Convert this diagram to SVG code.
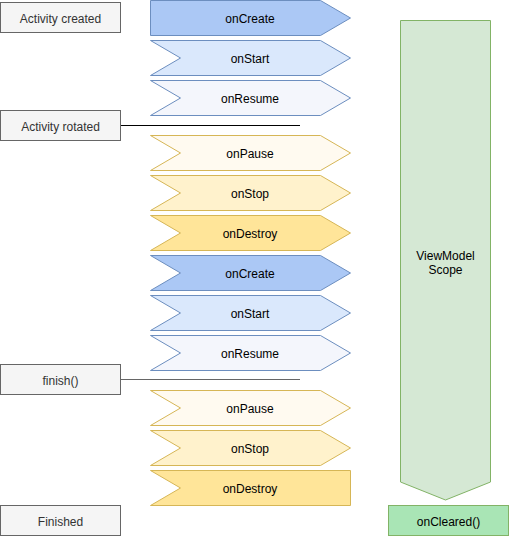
<svg xmlns="http://www.w3.org/2000/svg" width="509" height="536" viewBox="0 0 509 536">
<style>
text{font-family:"Liberation Sans",Arial,sans-serif;font-size:12px;text-anchor:middle}
.ev{fill:#f5f5f5;stroke:#666666;stroke-width:1}
.evt{fill:#333333}
.b{stroke:#6c8ebf;stroke-width:1}
.y{stroke:#d6b656;stroke-width:1}
.c1{fill:#abc8f5}.c2{fill:#dae8fc}.c3{fill:#f4f6fc}
.p1{fill:#fffaf0}.p2{fill:#fff2cc}.p3{fill:#ffe599}
.t{fill:#000000}
</style>
<g id="connectors">
<line x1="120" y1="125.5" x2="300" y2="125.5" stroke="#000000" stroke-width="1"/>
<line x1="120" y1="379.5" x2="300" y2="379.5" stroke="#666666" stroke-width="1"/>
</g>
<g id="activity-created"><rect class="ev" x="0.5" y="2.5" width="120" height="30"/><text class="evt" x="60.5" y="23">Activity created</text></g>
<g id="activity-rotated"><rect class="ev" x="0.5" y="110.5" width="120" height="30"/><text class="evt" x="60.5" y="131">Activity rotated</text></g>
<g id="finish"><rect class="ev" x="0.5" y="364.5" width="120" height="30"/><text class="evt" x="60.5" y="385">finish()</text></g>
<g id="finished"><rect class="ev" x="0.5" y="505.5" width="120" height="30"/><text class="evt" x="60.5" y="526">Finished</text></g>

<g id="onCreate1"><polygon class="b c1" points="150.5,0.5 320.5,0.5 350.5,18 320.5,35.5 150.5,35.5"/><text class="t" x="250" y="23">onCreate</text></g>
<g id="onStart1"><polygon class="b c2" points="150.5,40.5 320.5,40.5 350.5,58 320.5,75.5 150.5,75.5 180.5,58"/><text class="t" x="250" y="63">onStart</text></g>
<g id="onResume1"><polygon class="b c3" points="150.5,80.5 320.5,80.5 350.5,98 320.5,115.5 150.5,115.5 180.5,98"/><text class="t" x="250" y="103">onResume</text></g>
<g id="onPause1"><polygon class="y p1" points="150.5,135.5 320.5,135.5 350.5,153 320.5,170.5 150.5,170.5 180.5,153"/><text class="t" x="250" y="158">onPause</text></g>
<g id="onStop1"><polygon class="y p2" points="150.5,175.5 320.5,175.5 350.5,193 320.5,210.5 150.5,210.5 180.5,193"/><text class="t" x="250" y="198">onStop</text></g>
<g id="onDestroy1"><polygon class="y p3" points="150.5,215.5 320.5,215.5 350.5,233 320.5,250.5 150.5,250.5 180.5,233"/><text class="t" x="250" y="238">onDestroy</text></g>
<g id="onCreate2"><polygon class="b c1" points="150.5,255.5 320.5,255.5 350.5,273 320.5,290.5 150.5,290.5 180.5,273"/><text class="t" x="250" y="278">onCreate</text></g>
<g id="onStart2"><polygon class="b c2" points="150.5,295.5 320.5,295.5 350.5,313 320.5,330.5 150.5,330.5 180.5,313"/><text class="t" x="250" y="318">onStart</text></g>
<g id="onResume2"><polygon class="b c3" points="150.5,335.5 320.5,335.5 350.5,353 320.5,370.5 150.5,370.5 180.5,353"/><text class="t" x="250" y="358">onResume</text></g>
<g id="onPause2"><polygon class="y p1" points="150.5,390.5 320.5,390.5 350.5,408 320.5,425.5 150.5,425.5 180.5,408"/><text class="t" x="250" y="413">onPause</text></g>
<g id="onStop2"><polygon class="y p2" points="150.5,430.5 320.5,430.5 350.5,448 320.5,465.5 150.5,465.5 180.5,448"/><text class="t" x="250" y="453">onStop</text></g>
<g id="onDestroy2"><polygon class="y p3" points="150.5,470.5 350.5,470.5 350.5,505.5 150.5,505.5 180.5,488"/><text class="t" x="250" y="493">onDestroy</text></g>

<g id="viewmodel-scope"><polygon fill="#d5e8d4" stroke="#82b366" stroke-width="1" points="400.5,20.5 490.5,20.5 490.5,482 445.5,500 400.5,482"/><text class="t" x="445.5" y="260">ViewModel</text><text class="t" x="445.5" y="274">Scope</text></g>
<g id="onCleared"><rect fill="#a9e5b5" stroke="#82b366" stroke-width="1" x="388.5" y="505.5" width="120" height="30"/><text class="t" x="448.5" y="526">onCleared()</text></g>
</svg>
